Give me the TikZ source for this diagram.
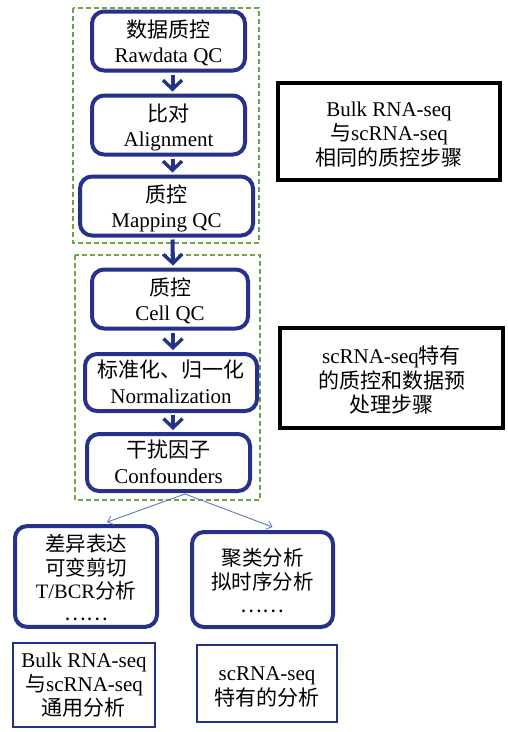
\documentclass[tikz,border=0pt]{standalone}
\usepackage{fontspec}
\setmainfont{Liberation Serif}
\newfontfamily\cjk{Noto Sans CJK SC}
\newcommand{\C}[1]{{\cjk #1}}
\newcommand{\Tx}[2]{\raisebox{-#1}[\dimexpr\height+#1\relax][\dimexpr\depth+#1\relax]{\begin{tabular}{@{}c@{}}#2\end{tabular}}}
\usetikzlibrary{arrows.meta,calc}
\definecolor{navy}{RGB}{38,50,138}
\definecolor{dgreen}{RGB}{110,165,70}
\definecolor{thinblue}{RGB}{100,120,185}
\begin{document}
\begin{tikzpicture}[x=1pt,y=-1pt,
  flow/.style={draw=navy,line width=4pt,rounded corners=12pt,fill=white,
    font=\fontsize{21}{25.5}\selectfont,inner sep=0pt},
  note/.style={draw=black,line width=4pt,font=\fontsize{21}{23}\selectfont,inner sep=0pt},
  plain/.style={draw=navy,line width=2pt,font=\fontsize{21}{23}\selectfont,inner sep=0pt},
  group/.style={draw=dgreen,line width=1.1pt,dash pattern=on 5pt off 3pt},
  bigarrow/.style={draw=navy,line width=4pt,-{Straight Barb[length=9pt,width=19pt,line width=3.4pt]}},
  thinarrow/.style={draw=thinblue,line width=0.9pt,-{Straight Barb[length=5pt,width=9pt,line width=0.8pt]}}
]
\useasboundingbox (0,0) rectangle (507,732);
\fill[white] (0,0) rectangle (507,732);

\draw[group] (73,8) rectangle (259,243);
\draw[group] (75,255) rectangle (260,500);

\node[flow,minimum width=153pt,minimum height=53pt] (raw) at (168.5,41) {\Tx{4pt}{\C{数据质控}\\Rawdata QC}};
\node[flow,minimum width=153pt,minimum height=56pt] (aln) at (168.5,125) {\Tx{4pt}{\C{比对}\\Alignment}};
\node[flow,minimum width=173pt,minimum height=52pt] (map) at (166.5,206) {\Tx{4pt}{\C{质控}\\Mapping QC}};
\node[flow,minimum width=156pt,minimum height=52pt] (cell) at (170,299) {\Tx{4pt}{\C{质控}\\Cell QC}};
\node[flow,minimum width=172pt,minimum height=55pt] (norm) at (171,382.5) {\Tx{3pt}{\C{标准化、归一化}\\Normalization}};
\node[flow,minimum width=163pt,minimum height=51pt] (conf) at (168.5,462.5) {\Tx{3pt}{\C{干扰因子}\\Confounders}};

\node[flow,minimum width=142pt,minimum height=97pt,font=\fontsize{20.5}{21.5}\selectfont] (da) at (86,576.5)
  {\Tx{4pt}{\C{差异表达}\\\C{可变剪切}\\T/BCR\C{分析}\\\C{……}}};
\node[flow,minimum width=141pt,minimum height=95pt,font=\fontsize{20.5}{22.5}\selectfont] (cl) at (262.5,579.5)
  {\Tx{4pt}{\C{聚类分析}\\\C{拟时序分析}\\\C{……}}};

\node[plain,minimum width=142pt,minimum height=84pt] (bulk) at (84,685) {\Tx{2pt}{Bulk RNA-seq\\\C{与}scRNA-seq\\\C{通用分析}}};
\node[plain,minimum width=140pt,minimum height=77pt] (sc) at (267,683.5) {\Tx{5pt}{scRNA-seq\\\C{特有的分析}}};

\node[note,minimum width=222pt,minimum height=97pt] (n1) at (389,131.5) {\Tx{5pt}{Bulk RNA-seq\\\C{与}scRNA-seq\\\C{相同的质控步骤}}};
\node[note,minimum width=223pt,minimum height=100pt] (n2) at (391.5,378) {\Tx{5pt}{scRNA-seq\C{特有}\\\C{的质控和数据预}\\\C{处理步骤}}};

\draw[bigarrow] ($(raw.south)+(4,2)$) -- ($(aln.north)+(4,-2)$);
\draw[bigarrow] ($(aln.south)+(4,2)$) -- ($(map.north)+(6,-2)$);
\draw[bigarrow] ($(map.south)+(6,2)$) -- ($(cell.north)+(3,-2)$);
\draw[bigarrow] ($(cell.south)+(3,2)$) -- ($(norm.north)+(2,-2)$);
\draw[bigarrow] ($(norm.south)+(2,2)$) -- ($(conf.north)+(4.5,-2)$);

\coordinate (split) at ($(conf.south)+(16.5,1)$);
\draw[thinarrow] (split) -- ($(da.north)+(21,-2)$);
\draw[thinarrow] (split) -- ($(cl.north)+(10,-3)$);
\end{tikzpicture}
\end{document}
